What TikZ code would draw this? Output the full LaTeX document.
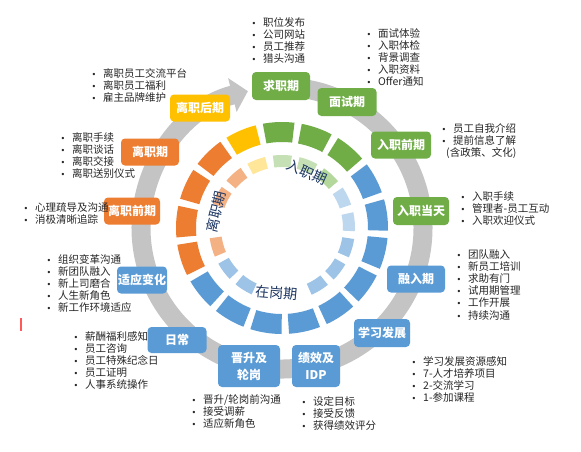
\documentclass[tikz,border=0pt]{standalone}
\usepackage{fontspec}
\setmainfont{Noto Sans CJK SC}
\newfontfamily\dejavu{DejaVu Sans}
\usetikzlibrary{arrows.meta}
\definecolor{cgreen}{HTML}{70AD47}
\definecolor{cblue}{HTML}{5B9BD5}
\definecolor{corange}{HTML}{ED7D31}
\definecolor{cgold}{HTML}{FFC000}
\definecolor{lgreen}{HTML}{C5E0B4}
\definecolor{lgreenb}{HTML}{B4D79C}
\definecolor{lblue}{HTML}{9DC3E6}
\definecolor{lbluep}{HTML}{BDD7EE}
\definecolor{lorange}{HTML}{F4B183}
\definecolor{lgold}{HTML}{FFE699}
\definecolor{ringgray}{HTML}{C4C4C4}
\definecolor{navy}{HTML}{1F3864}
\definecolor{txt}{HTML}{262626}
\newcommand\bu{\makebox[10pt][l]{\hspace{-1.5pt}{\dejavu\fontsize{8}{8}\selectfont •}}}
\tikzset{
  stagebox/.style={rounded corners=4pt, text=white, inner sep=0pt, align=center,
    font=\bfseries\fontsize{12}{17}\selectfont, minimum height=28pt},
  lst/.style={anchor=north west, inner sep=0pt, align=left, text=txt,
    font=\fontsize{10.5}{12.2}\selectfont},
  ringlbl/.style={text=navy, inner sep=0pt, font=\fontsize{14}{14}\selectfont}
}
\begin{document}
\begin{tikzpicture}[x=1pt,y=1pt]
\fill[white] (0,0) rectangle (581,-451);
\useasboundingbox (0,0) rectangle (581,-451);

% ring and segments
\begin{scope}[shift={(282,-228)}]
  \coordinate (ringstart) at (95:141);
  \draw[ringgray, line width=19pt, -{Triangle[width=34pt,length=16pt]}]
    (ringstart) arc[start angle=95, end angle=-256, radius=141];
  \foreach \col [count=\k from 0] in {cgold,cgreen,cgreen,cgreen,cblue,cblue,cblue,cblue,cblue,cblue,cblue,cblue,cblue,corange,corange,corange,corange}{
    \pgfmathsetmacro\a{113-21.176*\k-8.6}
    \pgfmathsetmacro\b{113-21.176*\k+8.6}
    \fill[\col] (\a:106) arc[start angle=\a,end angle=\b,radius=106] -- (\b:86) arc[start angle=\b,end angle=\a,radius=86] -- cycle;
  }
  \foreach \col [count=\k from 0] in {lgreen,lgold,lorange,lorange,white,lorange,lblue,lblue,white,white,lblue,lblue,lblue,lbluep,lbluep,lgreenb,lgreen}{
    \pgfmathsetmacro\a{89.7+21.176*\k-7.5}
    \pgfmathsetmacro\b{89.7+21.176*\k+7.5}
    \fill[\col] (\a:73) arc[start angle=\a,end angle=\b,radius=73] -- (\b:61) arc[start angle=\b,end angle=\a,radius=61] -- cycle;
  }
  \node[ringlbl, rotate=-24] (lin) at (66:61) {入职期};
  \node[ringlbl, rotate=76] (lout) at (166:68) {离职期};
  \node[ringlbl, rotate=-5] (lon) at (-95:65) {在岗期};
\end{scope}

% stage boxes
\node[stagebox, fill=cgreen, minimum width=58pt] (b1) at (281,-86) {求职期};
\node[stagebox, fill=cgreen, minimum width=59pt] (b2) at (347,-102) {面试期};
\node[stagebox, fill=cgreen, minimum width=60pt, minimum height=27pt] (b3) at (401,-145) {入职前期};
\node[stagebox, fill=cgreen, minimum width=56pt] (b4) at (421,-211) {入职当天};
\node[stagebox, fill=cblue, minimum width=58pt, minimum height=27pt] (b5) at (416,-279) {融入期};
\node[stagebox, fill=cblue, minimum width=56pt] (b6) at (382,-333) {学习发展};
\node[stagebox, fill=cblue, minimum width=48pt, minimum height=42pt] (b7) at (316,-366) {绩效及\\IDP};
\node[stagebox, fill=cblue, minimum width=62pt, minimum height=42pt] (b8) at (249,-366) {晋升及\\轮岗};
\node[stagebox, fill=cblue, minimum width=59pt, minimum height=26pt] (b9) at (177,-340) {日常};
\node[stagebox, fill=cblue, minimum width=50pt, minimum height=27pt] (b10) at (142,-280) {适应变化};
\node[stagebox, fill=corange, minimum width=56pt, minimum height=27pt] (b11) at (132,-211) {离职前期};
\node[stagebox, fill=corange, minimum width=58pt, minimum height=27pt] (b12) at (150,-152) {离职期};
\node[stagebox, fill=cgold, minimum width=60pt, minimum height=27pt] (b13) at (200,-108) {离职后期};

% lists
\node[lst] (l1) at (253,-17) {\bu 职位发布\\\bu 公司网站\\\bu 员工推荐\\\bu 猎头沟通};
\node[lst] (l2) at (368,-28) {\bu 面试体验\\\bu 入职体检\\\bu 背景调查\\\bu 入职资料\\\bu Offer通知};
\node[lst] (l3) at (443,-123) {\bu 员工自我介绍\\\bu 提前信息了解\\\hspace*{3pt}(含政策、文化)};
\node[lst] (l4) at (462,-191) {\bu 入职手续\\\bu 管理者-员工互动\\\bu 入职欢迎仪式};
\node[lst] (l5) at (458,-249) {\bu 团队融入\\\bu 新员工培训\\\bu 求助有门\\\bu 试用期管理\\\bu 工作开展\\\bu 持续沟通};
\node[lst] (l6) at (413,-356) {\bu 学习发展资源感知\\\bu 7-人才培养项目\\\bu 2-交流学习\\\bu 1-参加课程};
\node[lst] (l7) at (303,-396) {\bu 设定目标\\\bu 接受反馈\\\bu 获得绩效评分};
\node[lst] (l8) at (193,-394) {\bu 晋升/轮岗前沟通\\\bu 接受调薪\\\bu 适应新角色};
\node[lst] (l9) at (75,-331) {\bu 薪酬福利感知\\\bu 员工咨询\\\bu 员工特殊纪念日\\\bu 员工证明\\\bu 人事系统操作};
\node[lst] (l10) at (48,-254) {\bu 组织变革沟通\\\bu 新团队融入\\\bu 新上司磨合\\\bu 人生新角色\\\bu 新工作环境适应};
\node[lst] (l11) at (25,-202) {\bu 心理疏导及沟通\\\bu 消极清晰追踪};
\node[lst] (l12) at (62,-132) {\bu 离职手续\\\bu 离职谈话\\\bu 离职交接\\\bu 离职送别仪式};
\node[lst] (l13) at (93,-68) {\bu 离职员工交流平台\\\bu 离职员工福利\\\bu 雇主品牌维护};

% stray red mark
\coordinate (rm1) at (21,-318);
\coordinate (rm2) at (21,-331);
\draw[red!65!white, line width=1.5pt] (rm1) -- (rm2);
\end{tikzpicture}
\end{document}
